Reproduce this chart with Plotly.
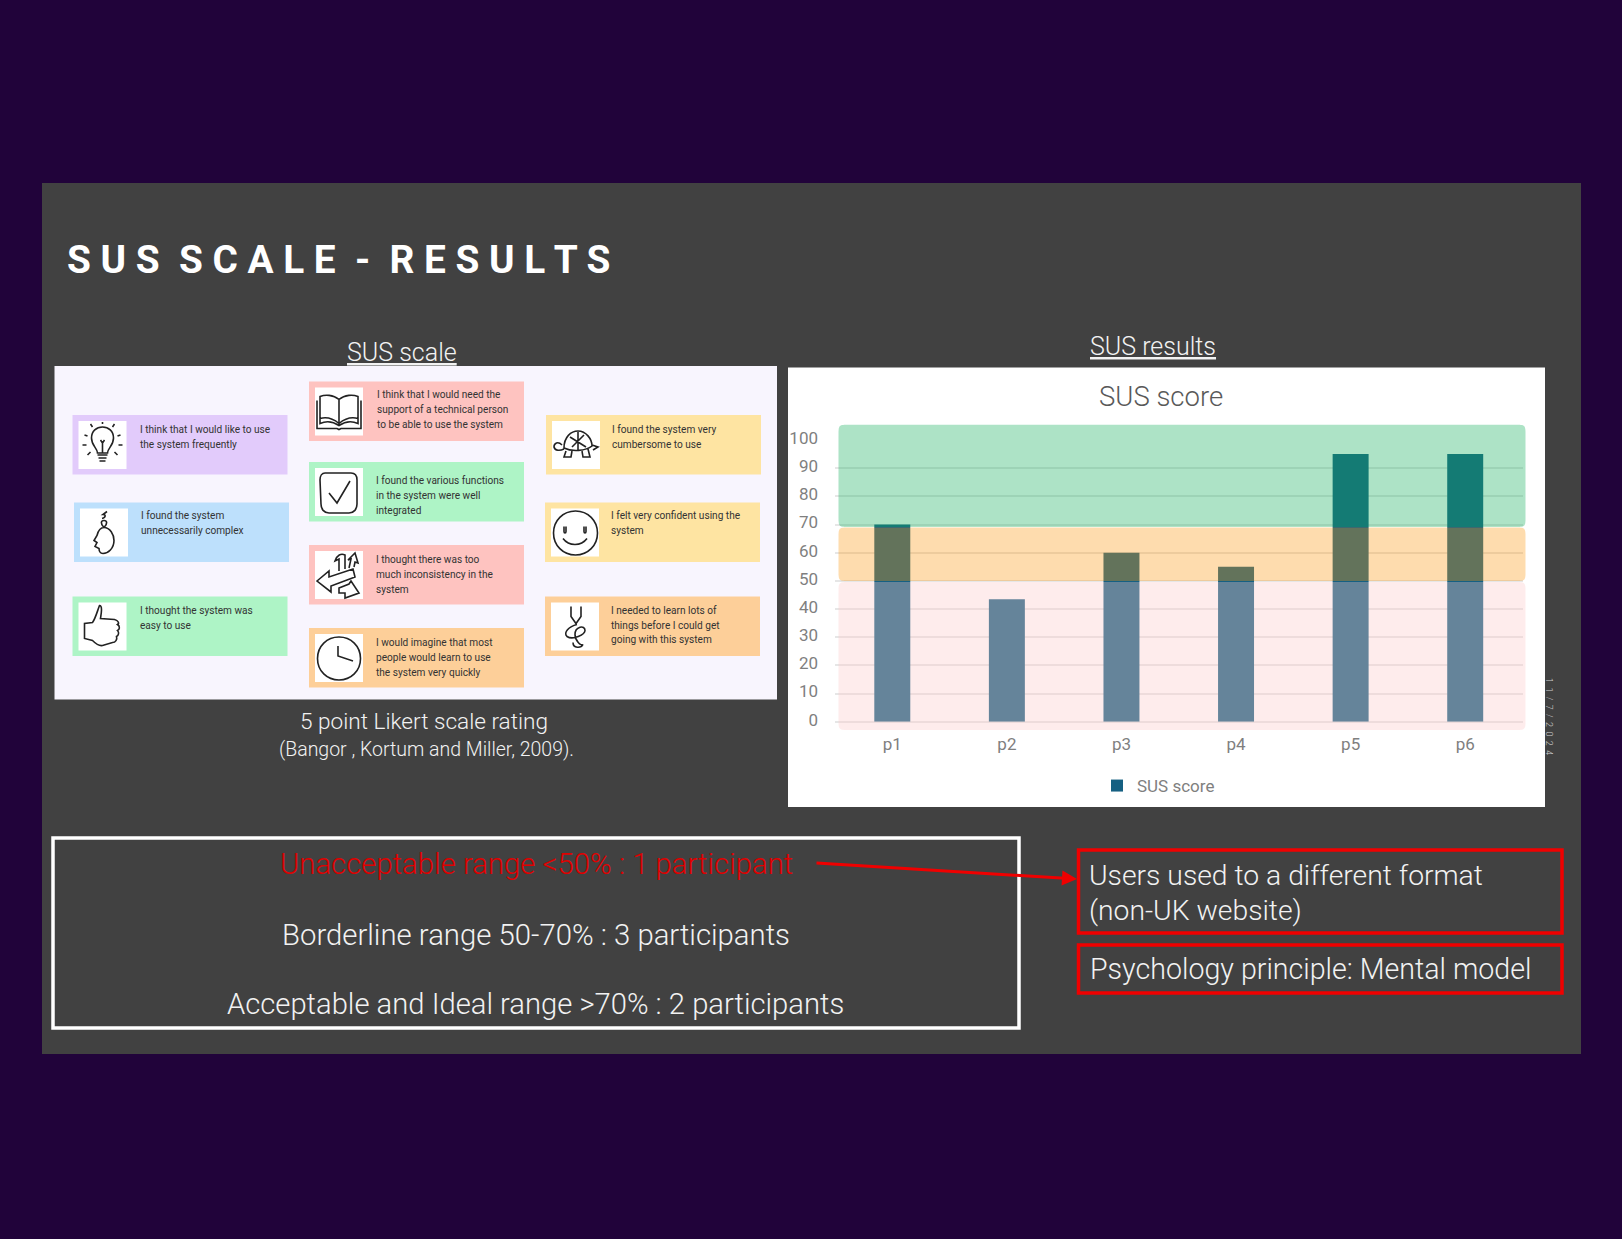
import re
import plotly.graph_objects as go

W, H = 1622, 1239

participants = ["p1", "p2", "p3", "p4", "p5", "p6"]
sus_scores = [70, 43.5, 60, 55, 95, 95]
y_ticks = [0, 10, 20, 30, 40, 50, 60, 70, 80, 90, 100]

card_lines = [
    ["I think that I would like to use", "the system frequently"],
    ["I found the system", "unnecessarily complex"],
    ["I thought the system was", "easy to use"],
    ["I think that I would need the", "support of a technical person", "to be able to use the system"],
    ["I found the various functions", "in the system were well", "integrated"],
    ["I thought there was too", "much inconsistency in the", "system"],
    ["I would imagine that most", "people would learn to use", "the system very quickly"],
    ["I found the system very", "cumbersome to use"],
    ["I felt very confident using the", "system"],
    ["I needed to learn lots of", "things before I could get", "going with this system"],
]
card_colors = ["#e2cbfb", "#bde0fc", "#aef4c6", "#fec3c0", "#aef4c6",
               "#fec3c0", "#fdcf99", "#fee4a2", "#fee4a2", "#fdcf99"]
# left, top of every card in page pixels
card_pos = [(72.5, 415), (74, 502.5), (72.5, 596.5), (309, 381.5), (309, 462),
            (309, 545), (309, 628), (546, 415), (545, 502.5), (545, 596.5)]
# where the text starts inside each card
card_text_pos = [(65, 14.5), (65, 12.5), (65, 13.5), (66, 12.5), (65, 18.5),
                 (65, 14.5), (65, 14.5), (63.5, 14.5), (63.5, 12.5), (63.5, 13.5)]

# icons drawn in a 48x48 box
icons = [
    "M19 32 C19 27 13 25 13 17 C13 10 18 6 24 6 C30 6 35 10 35 17 C35 25 29 27 29 32 Z "
    "M19 34 L29 34 M20 37 L28 37 M21 40 L27 40 M24 32 L24 22 L22 19 M24 22 L26 19 "
    "M24 1 L24 3 M12 3 L14 6 M36 3 L34 6 M6 14 L9 15 M42 14 L39 15 M4 24 L8 24 M44 24 L40 24 M9 34 L12 31 M39 34 L36 31",
    "M24 19 C30 19 34 26 34 32 C34 40 28 45 23 45 C20 45 19 42 19 40 L15 38 L17 34 L14 32 L17 27 C18 23 20 19 24 19 Z "
    "M24 19 C20 15 21 12 24 12 C27 12 28 15 24 19 M22 10 C26 9 26 6 23 6 L27 3",
    "M21 3 C24 3 23 10 22 16 L36 17 C40 18 41 21 39 22 C42 24 41 27 39 28 C41 30 40 33 38 34 C39 37 37 40 34 40 "
    "L24 43 C20 44 16 40 14 38 L6 36 L6 21 L14 20 C17 16 19 8 21 3 Z",
    "M24 12 C18 7 10 7 5 9 L5 36 C12 33 18 34 24 38 C30 34 36 33 43 36 L43 9 C38 7 30 7 24 12 Z M24 12 L24 38 "
    "M2 13 L2 41 L22 41 L24 42 L26 41 L46 41 L46 13 M5 31 C12 29 18 31 24 36 M43 31 C36 29 30 31 24 36",
    "M10 5 L36 5 C40 5 42 8 42 12 L42 36 C42 41 39 45 34 45 L14 45 C9 45 6 41 6 36 L5 12 C5 8 7 5 10 5 Z "
    "M14 25 L22 35 L35 13",
    "M2 30 L14 20 L14 26 L38 18 L40 26 L16 35 L16 41 Z M24 20 L24 8 L20 10 C22 4 26 2 30 4 L30 18 "
    "M24 37 L34 33 L36 30 L44 42 L30 47 L30 42 L24 42 Z M34 17 L36 8 L33 9 L40 2 L43 12 L40 11 L39 16",
    "M2.5 24.5 C2.5 12 12 3 24 3 C36 3 45.5 12 45.5 24.5 C45.5 37 36 46 24 46 C12 46 2.5 37 2.5 24.5 Z "
    "M23 12 L23 22 L38 27",
    "M12 27 C12 16 19 10 26 10 C34 10 40 18 40 25 C34 30 20 31 12 27 Z M18 16 L34 26 M32 14 L20 26 M26 11 L26 29 "
    "M10 24 C6 20 2 22 2 26 C3 30 8 30 12 28 M14 30 L12 36 L19 36 L20 30 M30 30 L31 36 L38 36 L36 28 M40 24 L46 26 L41 29",
    "M2.5 24.5 C2.5 12 12 2.5 24.5 2.5 C37 2.5 46.5 12 46.5 24.5 C46.5 37 37 46.5 24.5 46.5 C12 46.5 2.5 37 2.5 24.5 Z "
    "M13 18 L13 23 C13 25 15 25 15 23 L15 18 M33 18 L33 23 C33 25 35 25 35 23 L35 18 M12 30 C18 38 30 38 36 30",
    "M20 4 L20 14 L25 21 L30 14 L30 4 M26 22 C18 24 12 30 16 34 C22 38 34 32 34 28 C34 22 24 24 24 32 "
    "C24 38 30 44 32 42 C30 46 22 46 22 40",
]

body_font = "Roboto"


def px(x):
    return x / W


def py(y):
    return 1 - y / H


def to_paper(path, ox=0, oy=0):
    # turn a pixel path into paper coordinates
    toks = re.findall(r"[MLCZ]|-?[\d.]+", path)
    out = []
    is_x = True
    for t in toks:
        if t in "MLCZ":
            out.append(t)
            is_x = True
        else:
            v = float(t)
            out.append(f"{px(v + ox):.5f}" if is_x else f"{py(v + oy):.5f}")
            is_x = not is_x
    return " ".join(out)


def rrect(x0, y0, x1, y1, r):
    return (f"M {x0+r} {y0} L {x1-r} {y0} C {x1} {y0} {x1} {y0} {x1} {y0+r} L {x1} {y1-r} "
            f"C {x1} {y1} {x1} {y1} {x1-r} {y1} L {x0+r} {y1} C {x0} {y1} {x0} {y1} {x0} {y1-r} "
            f"L {x0} {y0+r} C {x0} {y0} {x0} {y0} {x0+r} {y0} Z")


shapes = []
annotations = []


def box(x0, y0, x1, y1, fill=None, line=None, width=0, layer="below"):
    shapes.append(dict(type="rect", xref="paper", yref="paper", layer=layer,
                       x0=px(x0), x1=px(x1), y0=py(y0), y1=py(y1),
                       fillcolor=fill if fill else "rgba(0,0,0,0)",
                       line=dict(color=line if line else "rgba(0,0,0,0)", width=width)))


def label(x, y, text, size, color="#f2f2f2", anchor="center", angle=0, weight=300):
    annotations.append(dict(xref="paper", yref="paper", x=px(x), y=py(y), text=text,
                            showarrow=False, xanchor=anchor, yanchor="middle", textangle=angle,
                            font=dict(family=body_font, size=size, color=color, weight=weight)))


# slide and panels
box(42, 183, 1581, 1054, fill="#414141")
box(54.5, 366, 777, 699.5, fill="#f8f5fe")
box(788, 367.5, 1545, 807, fill="#ffffff")

# cards on the left panel
for lines, color, (cx, cy), (tx, ty), icon in zip(card_lines, card_colors, card_pos, card_text_pos, icons):
    box(cx, cy, cx + 215, cy + 59.5, fill=color)
    box(cx + 6, cy + 6, cx + 54, cy + 54, fill="#ffffff")
    shapes.append(dict(type="path", xref="paper", yref="paper", layer="below",
                       path=to_paper(icon, cx + 6, cy + 6),
                       line=dict(color="#222222", width=1.6)))
    for i, t in enumerate(lines):
        label(cx + tx, cy + ty + 15 * i, t, 10.1, color="#333333", anchor="left", weight=400)

# coloured bands lie over the bars
bands = [(424.7, 527, "rgba(20,175,92,0.35)"),
         (527.5, 581, "rgba(253,153,18,0.34)"),
         (582, 730, "rgba(251,200,200,0.35)")]
for y0, y1, color in bands:
    shapes.append(dict(type="path", xref="paper", yref="paper", layer="above",
                       path=to_paper(rrect(838.5, y0, 1525.5, y1, 11)), fillcolor=color,
                       line=dict(width=0)))

# outlined boxes
box(53, 838, 1019, 1028, line="#ffffff", width=3.5, layer="above")
box(1078.5, 850, 1562, 933, line="#f00000", width=3.5, layer="above")
box(1078.5, 945, 1562, 993, line="#f00000", width=3.5, layer="above")

# texts
label(65, 260, "S U S  S C A L E  -  R E S U L T S", 38.8, color="#ffffff", anchor="left", weight=700)
label(402, 352, "<u>SUS scale</u>", 25)
label(1152.5, 346, "<u>SUS results</u>", 25)
label(424, 721.5, "5 point Likert scale rating", 22.6)
label(426.5, 749, "(Bangor , Kortum and Miller, 2009).", 19.5)
label(1160.5, 396, "SUS score", 27.5, color="#595959")
label(536, 864, "Unacceptable range &lt;50% : 1 participant", 29.3, color="#e00000")
label(536, 935, "Borderline range 50-70% : 3 participants", 29.3)
label(535, 1004, "Acceptable and Ideal range &gt;70% : 2 participants", 29.2)
label(1087, 875, "Users used to a different format", 28.3, anchor="left")
label(1087, 910, "(non-UK website)", 28.3, anchor="left")
label(1088, 969, "Psychology principle: Mental model", 28.6, anchor="left")
label(1549, 716, "1  1  /  7  /  2  0  2  4", 9, color="#d0d0d0", angle=90)

# arrow between the unacceptable line and the note
annotations.append(dict(xref="paper", yref="paper", axref="pixel", ayref="pixel",
                        x=px(1077), y=py(879), ax=-262, ay=-16, text="",
                        showarrow=True, arrowhead=2, arrowsize=1, arrowwidth=3, arrowcolor="#f00000"))

fig = go.Figure(go.Bar(x=participants, y=sus_scores, name="SUS score",
                       marker=dict(color="#156082", line=dict(width=0)), showlegend=True))

tick_font = dict(family=body_font, size=17, color="#7f7f7f")
fig.update_layout(
    width=W, height=H, margin=dict(l=0, r=0, t=0, b=0, autoexpand=False), autosize=False,
    paper_bgcolor="#21033a", plot_bgcolor="rgba(0,0,0,0)",
    bargap=0.686, shapes=shapes, annotations=annotations,
    legend=dict(orientation="h", x=px(1097), y=py(786), xanchor="left", yanchor="middle",
                bgcolor="rgba(0,0,0,0)", font=dict(family=body_font, size=17, color="#7f7f7f")),
    xaxis=dict(domain=[px(835), px(1522.5)], type="category", showgrid=False, zeroline=False,
               tickfont=tick_font, ticks="", ticklabelstandoff=10),
    yaxis=dict(domain=[py(721.7), py(440)], range=[0, 100], tickvals=y_ticks,
               showgrid=True, gridcolor="#e6e6e6", gridwidth=2,
               zeroline=True, zerolinecolor="#e6e6e6", zerolinewidth=2,
               tickfont=tick_font, ticks="", ticklabelstandoff=16, ticklabelshift=-2),
)

fig.write_html("out.html", config={"displayModeBar": False},
               post_script="document.body.style.margin='0';document.body.style.background='#21033a';")
